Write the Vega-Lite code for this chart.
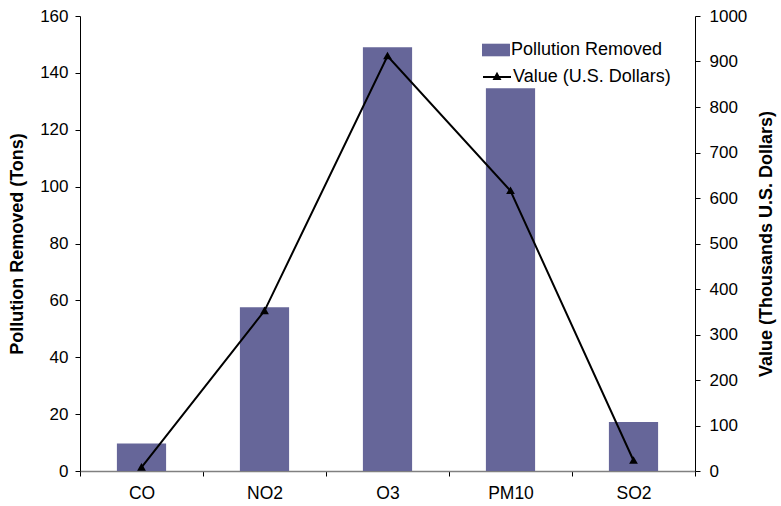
{
  "$schema": "https://vega.github.io/schema/vega-lite/v6.json",
  "width": 615,
  "height": 455,
  "autosize": {"type": "none"},
  "padding": {"left": 80, "top": 16, "right": 86, "bottom": 35},
  "background": "white",
  "config": {
    "view": {"stroke": null},
    "font": "Liberation Sans",
    "axis": {
      "grid": false,
      "labelFont": "Liberation Sans",
      "labelFontSize": 17,
      "labelColor": "black",
      "titleFont": "Liberation Sans",
      "titleFontSize": 18,
      "titleFontWeight": "bold",
      "titleColor": "black",
      "domainColor": "black",
      "tickColor": "black",
      "tickSize": 5
    },
    "legend": {
      "labelFont": "Liberation Sans",
      "labelFontSize": 18,
      "labelColor": "black",
      "padding": 0
    }
  },
  "data": {
    "values": [
      {"pollutant": "CO", "removed": 9.7, "value": 8},
      {"pollutant": "NO2", "removed": 57.6, "value": 352},
      {"pollutant": "O3", "removed": 149, "value": 912},
      {"pollutant": "PM10", "removed": 134.6, "value": 616},
      {"pollutant": "SO2", "removed": 17.2, "value": 23}
    ]
  },
  "encoding": {
    "x": {
      "field": "pollutant",
      "type": "nominal",
      "sort": null,
      "scale": {"paddingInner": 0, "paddingOuter": 0},
      "axis": {
        "title": null,
        "labelAngle": 0,
        "labelFontSize": 17.5,
        "domainColor": "#808080",
        "domainWidth": 1.5,
        "tickBand": "extent",
        "labelPadding": 8
      }
    }
  },
  "layer": [
    {
      "mark": {"type": "bar", "width": {"band": 0.4}},
      "encoding": {
        "y": {
          "field": "removed",
          "type": "quantitative",
          "scale": {"domain": [0, 160]},
          "axis": {
            "orient": "left",
            "title": "Pollution Removed (Tons)",
            "values": [0, 20, 40, 60, 80, 100, 120, 140, 160],
            "labelPadding": 7,
            "titlePadding": 13
          }
        },
        "color": {
          "datum": "Pollution Removed",
          "type": "nominal",
          "scale": {"range": ["#666699"]},
          "legend": {
            "title": null,
            "orient": "none",
            "legendX": 402,
            "legendY": 20,
            "symbolType": "M-1,-0.45H1V0.45H-1Z",
            "symbolSize": 784,
            "symbolStrokeWidth": 0,
            "labelOffset": 1
          }
        }
      }
    },
    {
      "mark": {
        "type": "line",
        "color": "black",
        "strokeWidth": 2,
        "point": {"shape": "triangle-up", "size": 28, "filled": true, "color": "black"}
      },
      "encoding": {
        "y": {
          "field": "value",
          "type": "quantitative",
          "scale": {"domain": [0, 1000]},
          "axis": {
            "orient": "right",
            "title": "Value (Thousands U.S. Dollars)",
            "titleAngle": 270,
            "format": "d",
            "values": [0, 100, 200, 300, 400, 500, 600, 700, 800, 900, 1000],
            "labelPadding": 9,
            "titlePadding": 29
          }
        },
        "stroke": {
          "datum": "Value (U.S. Dollars)",
          "type": "nominal",
          "scale": {"range": ["black"]},
          "legend": {
            "title": null,
            "orient": "none",
            "legendX": 402,
            "legendY": 46,
            "symbolType": "M-1,0H1M-0.2,0.15L0,-0.22L0.2,0.15Z",
            "symbolSize": 784,
            "symbolStrokeWidth": 2,
            "symbolFillColor": "black",
            "labelOffset": 1
          }
        }
      }
    }
  ],
  "resolve": {"scale": {"y": "independent", "color": "independent"}}
}
